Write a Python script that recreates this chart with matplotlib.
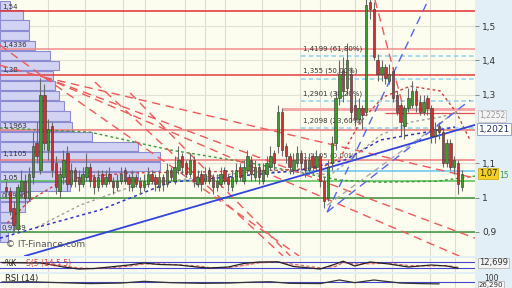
import matplotlib.pyplot as plt
import matplotlib.transforms as mtransforms

# ---- price candles (oldest first) ----
opens = [1.03, 1.02, 0.97, 0.91, 1.02, 1.05, 1.00, 1.06, 1.16, 1.08,
         1.30, 1.14, 1.21, 1.10, 1.02, 1.06, 1.13, 1.04, 1.08, 1.06,
         1.04, 1.06, 1.09, 1.06, 1.03, 1.07, 1.04, 1.07, 1.05, 1.03,
         1.05, 1.08, 1.06, 1.03, 1.06, 1.05, 1.03, 1.04, 1.07, 1.06,
         1.03, 1.06, 1.04, 1.08, 1.05, 1.08, 1.12, 1.10, 1.07, 1.11,
         1.04, 1.07, 1.05, 1.08, 1.06, 1.03, 1.04, 1.08, 1.06, 1.03,
         1.05, 1.09, 1.05, 1.08, 1.11, 1.06, 1.09, 1.05, 1.07, 1.09,
         1.13, 1.15, 1.25, 1.15, 1.12, 1.08, 1.10, 1.13, 1.11, 1.08,
         1.12, 1.09, 1.12, 1.05, 1.00, 1.10, 1.16, 1.29, 1.37, 1.32,
         1.36, 1.27, 1.23, 1.26, 1.25, 1.57, 1.55, 1.40, 1.36, 1.38,
         1.34, 1.37, 1.30, 1.27, 1.21, 1.26, 1.27, 1.31, 1.28, 1.25,
         1.29, 1.26, 1.18, 1.21, 1.19, 1.10, 1.16, 1.09, 1.10, 1.03]
highs = [1.05, 1.03, 0.99, 1.04, 1.08, 1.07, 1.09, 1.19, 1.22, 1.35,
         1.33, 1.23, 1.22, 1.12, 1.09, 1.14, 1.15, 1.10, 1.09, 1.08,
         1.09, 1.13, 1.10, 1.07, 1.08, 1.08, 1.08, 1.09, 1.06, 1.07,
         1.09, 1.09, 1.07, 1.08, 1.07, 1.06, 1.07, 1.09, 1.08, 1.07,
         1.08, 1.07, 1.10, 1.09, 1.12, 1.15, 1.13, 1.11, 1.13, 1.12,
         1.08, 1.08, 1.09, 1.09, 1.07, 1.07, 1.09, 1.09, 1.07, 1.08,
         1.10, 1.10, 1.11, 1.14, 1.12, 1.11, 1.10, 1.10, 1.12, 1.15,
         1.14, 1.27, 1.26, 1.16, 1.13, 1.13, 1.15, 1.14, 1.12, 1.13,
         1.13, 1.14, 1.13, 1.06, 1.11, 1.18, 1.31, 1.40, 1.41, 1.45,
         1.38, 1.30, 1.29, 1.27, 1.60, 1.60, 1.57, 1.42, 1.40, 1.39,
         1.39, 1.38, 1.31, 1.28, 1.27, 1.32, 1.34, 1.32, 1.30, 1.30,
         1.30, 1.27, 1.22, 1.22, 1.20, 1.17, 1.17, 1.12, 1.11, 1.08]
lows = [1.00, 0.95, 0.90, 0.90, 1.00, 0.98, 0.99, 1.04, 1.10, 1.07,
        1.14, 1.11, 1.06, 1.01, 1.00, 1.04, 1.02, 1.03, 1.03, 1.02,
        1.03, 1.05, 1.03, 1.01, 1.02, 1.03, 1.03, 1.04, 1.01, 1.02,
        1.04, 1.04, 1.02, 1.02, 1.03, 1.01, 1.02, 1.03, 1.04, 1.02,
        1.02, 1.02, 1.03, 1.05, 1.04, 1.07, 1.07, 1.06, 1.06, 1.03,
        1.03, 1.02, 1.04, 1.04, 1.01, 1.02, 1.03, 1.04, 1.02, 1.02,
        1.04, 1.05, 1.04, 1.07, 1.05, 1.05, 1.04, 1.04, 1.06, 1.08,
        1.08, 1.13, 1.12, 1.10, 1.07, 1.07, 1.09, 1.08, 1.06, 1.07,
        1.07, 1.08, 1.03, 0.97, 0.99, 1.08, 1.14, 1.27, 1.28, 1.30,
        1.22, 1.21, 1.22, 1.20, 1.24, 1.52, 1.40, 1.34, 1.34, 1.33,
        1.33, 1.28, 1.24, 1.18, 1.17, 1.25, 1.26, 1.25, 1.24, 1.24,
        1.24, 1.16, 1.16, 1.17, 1.09, 1.09, 1.08, 1.07, 1.01, 1.02]
closes = [1.02, 0.96, 0.92, 1.03, 1.05, 1.00, 1.07, 1.15, 1.12, 1.30,
          1.16, 1.20, 1.08, 1.03, 1.07, 1.11, 1.04, 1.08, 1.05, 1.04,
          1.07, 1.09, 1.05, 1.03, 1.06, 1.04, 1.06, 1.05, 1.03, 1.05,
          1.07, 1.05, 1.04, 1.06, 1.04, 1.03, 1.05, 1.07, 1.05, 1.04,
          1.06, 1.04, 1.08, 1.06, 1.09, 1.11, 1.09, 1.07, 1.11, 1.05,
          1.06, 1.04, 1.07, 1.05, 1.03, 1.05, 1.07, 1.05, 1.04, 1.06,
          1.08, 1.06, 1.09, 1.12, 1.07, 1.09, 1.06, 1.08, 1.10, 1.12,
          1.10, 1.25, 1.14, 1.12, 1.09, 1.11, 1.13, 1.10, 1.08, 1.11,
          1.09, 1.12, 1.05, 0.99, 1.09, 1.16, 1.29, 1.36, 1.31, 1.40,
          1.25, 1.23, 1.26, 1.24, 1.56, 1.55, 1.41, 1.36, 1.38, 1.35,
          1.36, 1.29, 1.25, 1.22, 1.26, 1.29, 1.31, 1.27, 1.25, 1.28,
          1.26, 1.18, 1.20, 1.19, 1.10, 1.16, 1.09, 1.11, 1.04, 1.07]

# ---- volume-at-price profile ----
profile_price = [1.561, 1.532, 1.503, 1.473, 1.444, 1.414, 1.385, 1.356,
                 1.326, 1.297, 1.267, 1.238, 1.208, 1.179, 1.150, 1.120,
                 1.091, 1.062, 1.032, 1.003, 0.973, 0.944, 0.914, 0.885]
profile_volume = [10, 23, 29, 29, 35, 50, 59, 53, 55, 59, 64, 70,
                  72, 92, 138, 160, 160, 138, 70, 30, 25, 18, 13, 8]
profile_labels = [(1.555, '1,54'), (1.445, '1,4336'), (1.372, '1,38'),
                  (1.209, '1,1963'), (1.127, '1,1105'), (1.057, '1,05'),
                  (1.005, '0,9996'), (0.911, '0,9389')]

# ---- support / resistance levels ----
red_levels = [1.544, 1.433, 1.358, 1.197, 1.109]
red_colors = ['#e03030', '#f08c8c', '#e23c3c', '#f07878', '#f07878']
green_levels = [1.05, 1.0, 0.9]
green_colors = ['#55c055', '#3a923a', '#3a923a']
fib_levels = [1.4199, 1.355, 1.2901, 1.2098]
fib_labels = ['1,4199 (61,80%)', '1,355 (50,00%)', '1,2901 (38,20%)', '1,2098 (23,60%)']
fib_start = 77

# ---- trend lines (candle index, price) ----
fan_apex = (9.9, 1.351)
fan_ends = [(122.4, 1.057), (122.4, 0.882), (118.3, 0.830), (76.5, 0.830)]
fan_left = [(-1.6, 1.445), (-1.6, 1.386)]
steep_red = [((32.4, 1.305), (74.2, 0.830)), ((23.2, 1.337), (72.3, 0.830)),
             ((96.3, 1.576), (104.2, 1.241))]
blue_trend = [(4.96, 0.830), (122.4, 1.212)]
blue_fan_base = (83.8, 0.958)
blue_fan_ends = [(110.2, 1.576), (121.1, 1.284)]
gray_fan = [(83.8, 0.978), (117.2, 1.249)]

# ---- moving averages (sampled at candle index) ----
ma_green_x = [-1.6, 21.9, 32.4, 42.8, 63.7, 87.2, 97.7, 112.5, 122.4]
ma_green = [1.203, 1.191, 1.165, 1.139, 1.101, 1.051, 1.045, 1.048, 1.063]
ma_red_x = [0.3, 6.3, 14.1, 19.3, 32.4, 50.7, 71.5, 82.0, 87.2, 92.4, 98.4, 105.5, 113.3, 117.5, 121.1]
ma_red = [0.926, 0.993, 1.045, 1.060, 1.072, 1.075, 1.080, 1.086, 1.115, 1.220, 1.293, 1.325, 1.311, 1.249, 1.168]
ma_gray_x = [8.1, 19.3, 32.4, 44.6, 63.7, 76.8, 84.6, 89.8, 97.7, 105.5, 113.3, 118.5]
ma_gray = [0.914, 0.978, 1.031, 1.051, 1.075, 1.075, 1.066, 1.110, 1.182, 1.220, 1.235, 1.249]
ma_blue_x = [-1.6, 10.2, 24.5, 42.8, 63.7, 76.8, 88.5, 97.7, 108.1, 117.2]
ma_blue = [0.882, 0.920, 0.964, 1.045, 1.066, 1.080, 1.110, 1.168, 1.188, 1.206]

# ---- oscillators ----
stoch_x = [-1, 4, 9, 13, 15, 19, 23, 27, 32, 36, 40, 45, 51, 53, 58,
           62, 66, 71, 75, 82, 86, 88, 91, 95, 100, 105, 111, 115, 118]
stoch_k = [75, 72, 70, 45, 30, 10, 15, 30, 50, 70, 55, 50, 25, 20, 30,
           65, 80, 82, 35, 10, 60, 88, 40, 80, 60, 30, 50, 40, 18]
stoch_d = [70, 74, 71, 58, 40, 22, 14, 22, 38, 60, 62, 52, 38, 24, 24,
           45, 72, 80, 58, 22, 35, 75, 62, 62, 68, 45, 40, 45, 28]
rsi_x = [-1, 6, 14, 22, 30, 36, 43, 51, 58, 65, 69, 74, 82, 87, 91, 96, 103, 108, 113]
rsi = [70, 72, 65, 58, 62, 75, 65, 60, 62, 70, 72, 60, 58, 85, 65, 85, 62, 58, 56]

grid_x = [11.0, 20.6, 30.5, 36.3, 46.7, 52.0, 57.2, 66.8, 76.8, 82.0, 91.1, 100.8, 110.7, 117.2]

XLIM = (-1.57, 122.4)
YLIM = (0.830, 1.576)
BG = '#fdfdef'
W = 475 / 512

fig = plt.figure(figsize=(5.12, 2.88), dpi=100, facecolor='#e3eff6')
main_rect = [0, 32 / 288, W, 256 / 288]

# background + grid
ax_bg = fig.add_axes(main_rect, facecolor=BG)
ax_bg.set_xlim(*XLIM)
ax_bg.set_ylim(*YLIM)
for gx in grid_x:
    ax_bg.axvline(gx, color='#dddcd0', lw=0.8)
for gy in [0.9, 1.0, 1.1, 1.2, 1.3, 1.4, 1.5]:
    ax_bg.axhline(gy, color='#e2e1d6', lw=0.8)
ax_bg.set_xticks([])
ax_bg.set_yticks([])
for s in ax_bg.spines.values():
    s.set_visible(False)

# volume profile
ax_prof = fig.add_axes(main_rect, facecolor='none')
ax_prof.barh(profile_price, profile_volume, height=0.027, left=0,
             color='#d2d2f2', edgecolor='#8c8cd2', linewidth=0.8)
ax_prof.set_xlim(0, 475)
ax_prof.set_ylim(*YLIM)
for py, lab in profile_labels:
    ax_prof.text(2, py, lab, fontsize=5, color='#333333', va='center', ha='left')
ax_prof.set_axis_off()

# main price axes
ax = fig.add_axes(main_rect, facecolor='none')
ax.set_xlim(*XLIM)
ax.set_ylim(*YLIM)

for lvl, col in zip(red_levels, red_colors):
    ax.axhline(lvl, color=col, lw=1.1, zorder=2)
for lvl, col in zip(green_levels, green_colors):
    ax.axhline(lvl, color=col, lw=1.1, zorder=2)
ax.hlines(1.257, 72, XLIM[1], color='#f5a8a8', lw=2.2, zorder=2)
ax.hlines(1.248, 99, XLIM[1], color='#e05050', lw=0.9, zorder=2)
ax.hlines(1.077, 78, XLIM[1], color='#66c4f0', lw=1.1, zorder=2)
for lvl, lab in zip(fib_levels, fib_labels):
    ax.hlines(lvl - 0.008, fib_start, XLIM[1], color='#8fd0f0', lw=1.1,
              linestyles=(0, (3, 2)), zorder=2)
    ax.text(fib_start + 0.5, lvl + 0.004, lab, fontsize=5, color='#333333',
            va='bottom', ha='left', zorder=6)
ax.text(fib_start + 0.5, 1.112, '1,1105 (0,00%)', fontsize=5, color='#555555',
        va='bottom', ha='left', zorder=1)

# dotted moving averages
ax.plot(ma_green_x, ma_green, color='#3a9a3a', lw=1, ls=(0, (2, 2)), zorder=3)
ax.plot(ma_red_x, ma_red, color='#d04040', lw=1, ls=(0, (2, 2)), zorder=3)
ax.plot(ma_gray_x, ma_gray, color='#a0a0a0', lw=1, ls=(0, (2, 2)), zorder=3)
ax.plot(ma_blue_x, ma_blue, color='#3333cc', lw=1.1, ls=(0, (2, 2)), zorder=3)

# red dashed fan
for ex, ey in fan_ends:
    ax.plot([fan_apex[0], ex], [fan_apex[1], ey], color='#f05858', lw=1,
            ls=(0, (6, 4)), zorder=3)
for sx, sy in fan_left:
    ax.plot([sx, fan_apex[0]], [sy, fan_apex[1]], color='#f05858', lw=1,
            ls=(0, (6, 4)), zorder=3)
for (x0, y0), (x1, y1) in steep_red:
    ax.plot([x0, x1], [y0, y1], color='#f05858', lw=1, ls=(0, (6, 4)), zorder=3)

# blue trend lines
ax.plot([p[0] for p in blue_trend], [p[1] for p in blue_trend],
        color='#3344dd', lw=1.3, zorder=4)
for ex, ey in blue_fan_ends:
    ax.plot([blue_fan_base[0], ex], [blue_fan_base[1], ey], color='#5566ee',
            lw=1, ls=(0, (6, 4)), zorder=4)
ax.plot([p[0] for p in gray_fan], [p[1] for p in gray_fan], color='#a8a8a8',
        lw=1, ls=(0, (4, 3)), zorder=3)

# candles
for i, (o, h, l, c) in enumerate(zip(opens, highs, lows, closes)):
    up = c >= o
    ax.vlines(i, l, h, color='#6a6a6a', lw=0.8, zorder=5)
    ax.bar(i, abs(c - o) if abs(c - o) > 0.004 else 0.004, bottom=min(o, c),
           width=0.62, color='#3d9a2a' if up else '#cc3030',
           edgecolor='#333333', linewidth=0.4, zorder=6)

ax.text(0.012, 0.035, '© IT-Finance.com', transform=ax.transAxes,
        fontsize=6.5, color='#555555', zorder=7)

# right axis
ax.yaxis.tick_right()
ax.set_yticks([0.9, 1.0, 1.1, 1.3, 1.4, 1.5])
ax.set_yticklabels(['0,9', '1', '1,1', '1,3', '1,4', '1,5'])
ax.tick_params(axis='y', length=3, width=0.6, color='#777777', labelsize=6.5,
               pad=2, labelcolor='#333333')
ax.set_xticks([])
for s in ax.spines.values():
    s.set_visible(False)

tr = mtransforms.blended_transform_factory(ax.transAxes, ax.transData)
ax.text(1.008, 1.238, '1,2252', transform=tr, fontsize=5.5, color='#999999',
        va='center', ha='left',
        bbox=dict(boxstyle='square,pad=0.15', fc='#f4f4f4', ec='#bbbbbb', lw=0.5))
ax.text(1.008, 1.2, '1,2021', transform=tr, fontsize=6.5, color='#223366',
        va='center', ha='left',
        bbox=dict(boxstyle='square,pad=0.15', fc='#ffffff', ec='#8899bb', lw=0.6))
ax.text(1.008, 1.07, '1,07', transform=tr, fontsize=6, color='#222222',
        va='center', ha='left',
        bbox=dict(boxstyle='square,pad=0.12', fc='#f5d020', ec='#c8a800', lw=0.5))
ax.text(1.052, 1.066, '15', transform=tr, fontsize=5.5, color='#3a9a3a',
        va='center', ha='left')

# stochastic panel
ax_st = fig.add_axes([0, 16 / 288, W, 14 / 288], facecolor=BG)
ax_st.set_xlim(*XLIM)
ax_st.set_ylim(-20, 120)
for gx in grid_x:
    ax_st.axvline(gx, color='#dddcd0', lw=0.8)
ax_st.axhline(80, color='#4444cc', lw=0.8)
ax_st.axhline(20, color='#4444cc', lw=0.8)
ax_st.fill_between(stoch_x, stoch_k, stoch_d, color='#f4b8c0', alpha=0.6, lw=0)
ax_st.plot(stoch_x, stoch_d, color='#e06060', lw=0.8, ls=(0, (3, 2)))
ax_st.plot(stoch_x, stoch_k, color='#222222', lw=0.9)
ax_st.text(0.01, 0.95, '%K', transform=ax_st.transAxes, fontsize=5.5,
           color='#222222', va='top')
ax_st.text(0.055, 0.95, 'S(5 (14,5,5)', transform=ax_st.transAxes, fontsize=5.5,
           color='#d84040', va='top')
ax_st.text(1.008, 70, '12,699', transform=mtransforms.blended_transform_factory(
    ax_st.transAxes, ax_st.transData), fontsize=6, color='#333333', va='center',
    bbox=dict(boxstyle='square,pad=0.1', fc='#f4f4f4', ec='#aaaaaa', lw=0.5))
ax_st.set_xticks([])
ax_st.set_yticks([])
for s in ax_st.spines.values():
    s.set_visible(False)

# RSI panel
ax_rsi = fig.add_axes([0, 0, W, 14 / 288], facecolor=BG)
ax_rsi.set_xlim(*XLIM)
ax_rsi.set_ylim(25, 130)
for gx in grid_x:
    ax_rsi.axvline(gx, color='#dddcd0', lw=0.8)
ax_rsi.axhline(70, color='#4444cc', lw=0.8)
ax_rsi.plot(rsi_x, rsi, color='#333333', lw=0.9)
ax_rsi.text(0.01, 0.98, 'RSI (14)', transform=ax_rsi.transAxes, fontsize=6,
            color='#222222', va='top')
trr = mtransforms.blended_transform_factory(ax_rsi.transAxes, ax_rsi.transData)
ax_rsi.text(1.02, 130, '100', transform=trr, fontsize=5.5, color='#333333', va='top')
ax_rsi.text(1.008, 26, '26,290', transform=trr, fontsize=5, color='#333333',
            va='bottom', bbox=dict(boxstyle='square,pad=0.08', fc='#f4f4f4',
                                   ec='#aaaaaa', lw=0.5))
ax_rsi.set_xticks([])
ax_rsi.set_yticks([])
for s in ax_rsi.spines.values():
    s.set_visible(False)

fig.savefig('out.png', dpi=100, facecolor=fig.get_facecolor())
